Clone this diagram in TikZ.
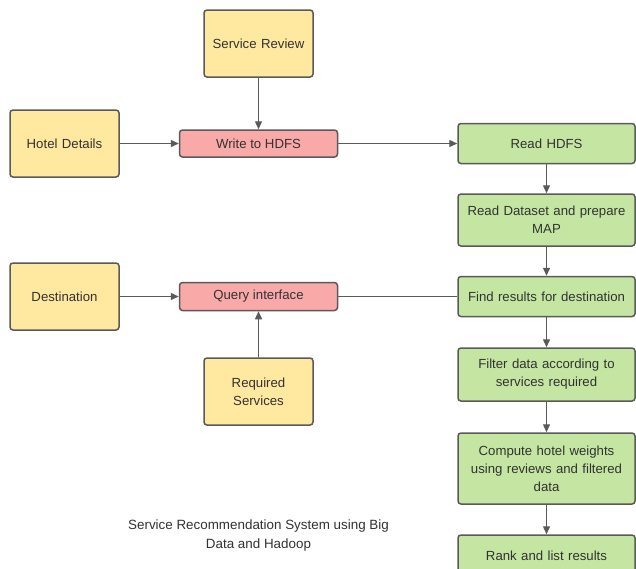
\documentclass[tikz,border=0pt]{standalone}
\usepackage{fontspec}
\setmainfont{Liberation Sans}
\usetikzlibrary{arrows.meta}
\definecolor{custcol_line}{RGB}{90, 90, 90}
\definecolor{custcol_text}{RGB}{50, 50, 50}
\definecolor{custcol_yellow}{RGB}{255, 232, 160}
\definecolor{custcol_pink}{RGB}{249, 170, 168}
\definecolor{custcol_green}{RGB}{196, 230, 162}
\tikzset{
  box/.style={draw=custcol_line, line width=1.5pt, rounded corners=3pt, align=center,
    text=custcol_text, inner sep=2pt, font=\fontsize{13.2pt}{18pt}\selectfont},
  inbox/.style={box, fill=custcol_yellow, minimum width=109pt, minimum height=67pt, text width=100pt},
  procbox/.style={box, fill=custcol_pink, minimum width=158pt},
  stepbox/.style={box, fill=custcol_green, minimum width=177pt, text width=172pt},
  conn/.style={draw=custcol_line, line width=1.4pt},
  arr/.style={conn, -{Triangle[length=8pt,width=7pt]}}
}
\begin{document}
\begin{tikzpicture}[x=1pt,y=-1pt]
\useasboundingbox (0,0) rectangle (636,568);
\fill[white] (0,0) rectangle (636,568);
% inputs
\node[inbox] (srvrev) at (258.5,43.5) {Service Review};
\node[inbox] (hotel) at (64.5,143.5) {Hotel Details};
\node[inbox] (dest) at (64.5,296.5) {Destination};
\node[inbox] (reqsrv) at (258.5,391.5) {Required\\Services};
% processes
\node[procbox, minimum height=27pt] (write) at (258.5,143.5) {Write to HDFS};
\node[procbox, minimum height=28pt] (query) at (258.5,296.5) {Query interface};
% steps
\node[stepbox, minimum height=40pt] (readhdfs) at (546.5,143.5) {Read HDFS};
\node[stepbox, minimum height=52pt] (readds) at (546.5,220) {Read Dataset and prepare\\MAP};
\node[stepbox, minimum height=40pt] (find) at (546.5,296.5) {Find results for destination};
\node[stepbox, minimum height=53pt] (filter) at (546.5,374.5) {Filter data according to\\services required};
\node[stepbox, minimum height=71pt] (compute) at (546.5,468.5) {Compute hotel weights\\using reviews and filtered\\data};
\node[stepbox, minimum height=42pt] (rank) at (546.5,556) {Rank and list results};
% caption
\node[align=center, text=custcol_text, font=\fontsize{13.4pt}{19pt}\selectfont] (title) at (258.5,535.5)
  {Service Recommendation System using Big\\Data and Hadoop};
% connectors
\draw[arr] (srvrev) -- (write);
\draw[arr] (hotel) -- (write);
\draw[arr] (write) -- (readhdfs);
\draw[arr] (dest) -- (query);
\draw[arr] (reqsrv) -- (query);
\draw[conn] (query) -- (find);
\draw[arr] (readhdfs) -- (readds);
\draw[arr] (readds) -- (find);
\draw[arr] (find) -- (filter);
\draw[arr] (filter) -- (compute);
\draw[arr] (compute) -- (rank);
\end{tikzpicture}
\end{document}
